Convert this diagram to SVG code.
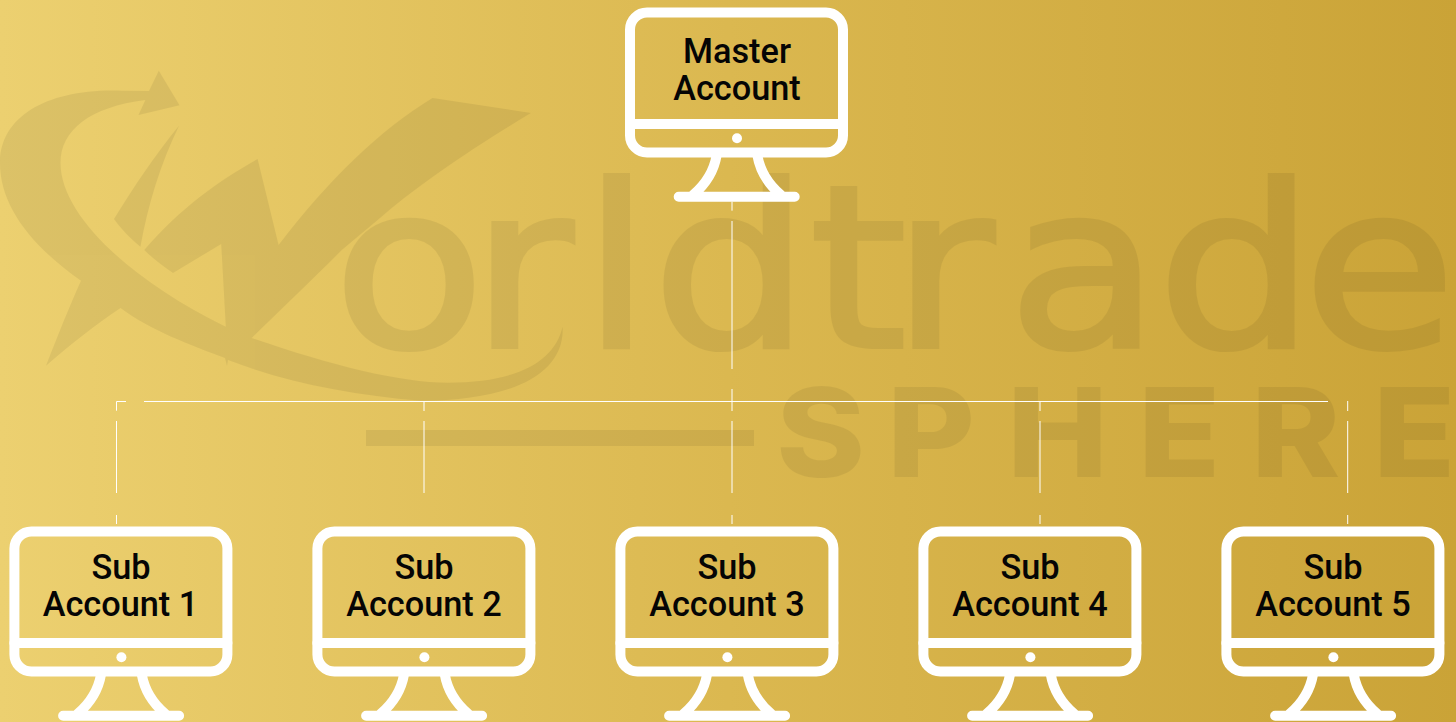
<svg xmlns="http://www.w3.org/2000/svg" width="1456" height="722" viewBox="0 0 1456 722">
<style>
.mon{fill:none;stroke:#fff;stroke-width:10;stroke-linecap:round}
.lbl{font-family:Roboto,"Liberation Sans",sans-serif;font-weight:500;font-size:34.300px;fill:#050505;text-anchor:middle}
.con{fill:none;stroke:#fff;stroke-width:1}
</style>
<defs>
<linearGradient id="bg" x1="0" y1="0" x2="1" y2="0">
<stop offset="0" stop-color="#ecd070"/><stop offset=".5" stop-color="#dbb850"/><stop offset="1" stop-color="#caa337"/>
</linearGradient>
<g id="monitor">
<rect class="mon" x="630" y="12.500" width="213" height="140" rx="17"/>
<path class="mon" d="M630 124H843" stroke-linecap="butt"/>
<circle cx="737" cy="138.300" r="5" fill="#fff"/>
<path class="mon" d="M716.700 155C714 171 706 184 693 195M757.300 155C760 171 768 184 781 195M678.700 196.700H794.700"/>
</g>
</defs>
<rect width="1456" height="722" fill="url(#bg)"/>
<g id="watermark" fill="#000" opacity=".062">
<path d="M158.800 70.700L179.500 105.300L138.500 115L145.400 100C90 107 60.500 130 60.500 163C60.500 215 130 280 225.800 326.700L221.200 244L173 273C162 265 152 258 144.300 250C180 208 220 180 257.600 159L278.600 245C330 178 380 130 432.500 98L530.800 113C470 150 425 180 382.700 215.700L341.800 250C310 282 280 310 251.800 338C330 365 400 382.700 447.800 382.700C520 382.700 555 360 562.600 326.700C565 375 510 400.700 421 400.700C350 395 285 382 228 360L227 366L225 358C190 345 150 330 120.500 308C95 325 70 345 46 365.700C58 335 70 305 81 280.700C30 245 0 205 0 163C0 115 50 88 122 90.700L149 91Z"/>
<path d="M179 125.700C160 165 148 205 140.400 246.700C130 238 122 230 114 219C135 185 155 155 179 125.700Z"/>
<rect x="366" y="430" width="388" height="16"/>
<text y="347" x="302.700 428.200 529.100 592.700 736 810.900 916 1051.800 1184.500" transform="scale(1.1 1)" style="font-family:'DejaVu Sans',sans-serif;font-size:226px;stroke:#000;stroke-width:4">orldtrade</text>
<text y="477" x="711.900 813.800 923.900 1044 1147.700 1259.600" transform="scale(1.09 1)" style="font-family:Inter,'Open Sans',sans-serif;font-weight:800;font-size:124px">SPHERE</text>
</g>
<g id="connectors">
<path class="con" d="M144 401.500H1328M116.500 410.700V401.500H126"/>
<path class="con" d="M116.500 421V493M116.500 515V524"/>
<path class="con" d="M424 401V411M424 421V493"/>
<path class="con" d="M732 201.700V210.700M732 221V369M732 389V411M732 421V493M732 515V524"/>
<path class="con" d="M1040 401V411M1040 421V493M1040 515V524"/>
<path class="con" d="M1347.700 401V411M1347.700 421V493M1347.700 515V524"/>
</g>
<g id="master-account"><use href="#monitor"/><text class="lbl"><tspan x="737" y="63">Master</tspan><tspan x="737" y="100">Account</tspan></text></g>
<g id="sub-account-1"><use href="#monitor" transform="translate(-615.600 519)"/><text class="lbl"><tspan x="121" y="579">Sub</tspan><tspan x="120.500" y="616">Account 1</tspan></text></g>
<g id="sub-account-2"><use href="#monitor" transform="translate(-312.600 519)"/><text class="lbl"><tspan x="424" y="579">Sub</tspan><tspan x="424" y="616">Account 2</tspan></text></g>
<g id="sub-account-3"><use href="#monitor" transform="translate(-9.600 519)"/><text class="lbl"><tspan x="727" y="579">Sub</tspan><tspan x="727" y="616">Account 3</tspan></text></g>
<g id="sub-account-4"><use href="#monitor" transform="translate(293.400 519)"/><text class="lbl"><tspan x="1030" y="579">Sub</tspan><tspan x="1030" y="616">Account 4</tspan></text></g>
<g id="sub-account-5"><use href="#monitor" transform="translate(596.400 519)"/><text class="lbl"><tspan x="1333" y="579">Sub</tspan><tspan x="1333" y="616">Account 5</tspan></text></g>
</svg>
